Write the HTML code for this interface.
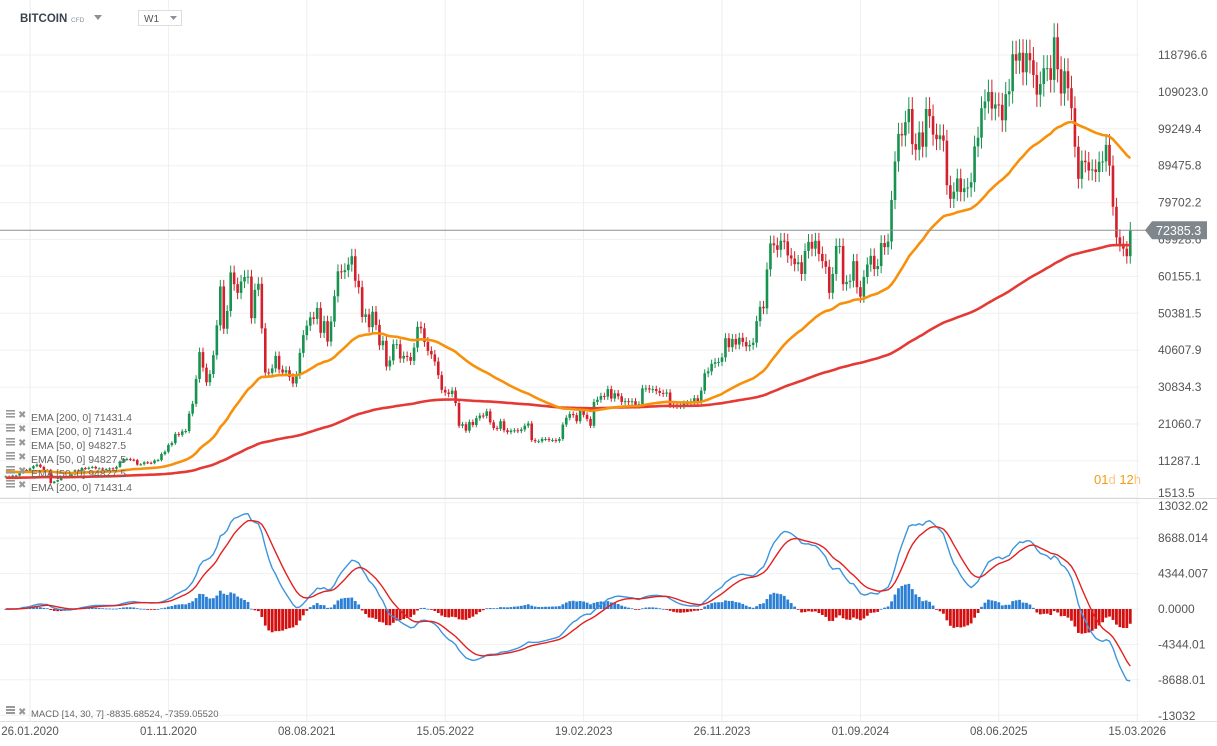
<!DOCTYPE html>
<html><head><meta charset="utf-8">
<style>
body{margin:0;background:#fff;width:1217px;height:746px;overflow:hidden;font-family:"Liberation Sans",sans-serif}
#c{position:absolute;left:0;top:0}
</style></head>
<body>
<svg id="c" width="1217" height="746" xmlns="http://www.w3.org/2000/svg">
<g id="grid"></g>
<g id="candles"></g>
<g id="emas"></g>
<g id="macd"></g>
<g id="axes"></g>
<g>
<text x="20" y="22" font-size="11.5" font-weight="bold" fill="#3a4450">BITCOIN</text>
<text x="71" y="22" font-size="6.5" fill="#8a9099">CFD</text>
<path d="M94 15 L102 15 L98 20 Z" fill="#8a9099"/>
<rect x="138.5" y="10.5" width="43" height="15" fill="#fff" stroke="#ddd"/>
<text x="144" y="22" font-size="10" fill="#555">W1</text>
<path d="M170 16 L177 16 L173.5 20 Z" fill="#8a9099"/>
</g>
<g id="legend"></g>
<text x="1094" y="484" font-size="13" fill="#f39c12">01<tspan fill="#f8c77f">d</tspan> 12<tspan fill="#f8c77f">h</tspan></text>
<text x="31" y="717" font-size="9.5" fill="#666">MACD [14, 30, 7] -8835.68524,  -7359.05520</text>
<g><rect x="6" y="706" width="9" height="2" fill="#999"/><rect x="6" y="709" width="9" height="2" fill="#999"/><rect x="6" y="712" width="9" height="2" fill="#999"/><text x="18" y="715" font-size="10" fill="#999">✖</text></g>
</svg>
<script>
const NS="http://www.w3.org/2000/svg";
const closes=[7.2,7.1,7.4,7.4,8.1,8.9,8.4,
9.3,9.9,10.3,9.7,8.6,8.9,5.4,5.8,6.2,6.8,6.9,7.1,7.7,8.8,8.7,9.4,9.2,9.5,9.7,9.3,9.3,9.0,9.1,9.3,9.2,9.7,11.1,11.7,11.8,11.6,11.5,10.3,10.4,10.9,10.8,10.7,11.4,11.5,13.1,13.7,15.5,16.0,18.4,18.2,19.1,19.2,23.8,26.4,33.0,
40.1,36.0,32.1,34.3,39.3,47.2,57.5,46.3,51.0,61.2,58.1,55.8,58.8,60.0,60.1,49.1,56.6,58.2,46.4,34.7,34.6,35.8,39.1,35.5,34.7,35.3,33.5,31.8,34.0,39.9,44.6,47.1,49.3,48.9,51.8,45.2,48.3,42.9,48.2,54.9,61.5,61.3,61.8,63.3,65.5,59.0,57.3,49.4,50.1,46.7,50.8,47.3,
41.9,43.1,36.3,37.9,42.2,42.2,38.4,39.1,38.8,37.8,41.3,46.8,46.4,42.8,40.4,39.5,37.6,34.0,30.1,29.4,29.0,29.9,26.6,20.6,21.0,19.3,21.6,20.8,22.6,23.3,23.2,24.4,21.5,20.0,19.8,21.8,19.4,18.9,19.3,19.4,19.2,19.6,20.6,21.2,16.8,16.5,16.5,17.1,17.1,16.8,16.8,16.6,
17.1,20.9,22.7,23.7,23.4,21.8,24.6,23.5,22.4,20.6,26.9,27.5,28.5,28.3,30.3,27.8,29.2,28.4,26.9,27.1,26.9,27.1,25.9,26.3,30.5,30.5,30.2,30.3,29.8,29.3,29.1,29.4,26.1,26.0,25.8,25.8,26.5,26.6,27.0,27.9,26.9,29.9,34.5,35.0,37.0,37.4,37.5,38.7,43.8,41.4,43.6,42.1,43.9,
42.8,41.6,42.0,42.6,48.3,52.1,51.7,62.0,68.9,68.4,67.2,69.6,69.4,65.7,64.9,63.4,63.9,60.8,66.9,69.3,67.5,69.6,66.1,64.2,62.7,55.8,60.8,68.2,68.2,58.1,58.7,59.0,64.2,57.3,54.8,60.0,63.3,65.6,62.1,62.9,69.0,67.9,69.4,80.4,90.6,97.9,97.5,101.0,104.5,95.2,93.7,98.3,
94.5,104.5,102.6,97.7,96.5,97.5,96.1,84.3,80.7,82.6,86.1,82.5,83.5,83.7,85.1,94.6,96.9,104.7,106.5,109.0,104.6,105.7,105.6,101.5,108.4,109.2,119.0,117.3,119.4,114.2,119.3,117.4,113.5,108.3,111.1,115.3,115.3,112.2,123.5,115.0,108.6,114.5,110.0,104.7,94.5,86.0,90.8,90.4,88.2,88.5,87.8,90.5,
90.6,95.0,89.5,78.6,70.5,68.8,67.5,65.5,72.4];
const priceTicks=[118796.6,109023.0,99249.4,89475.8,79702.2,69928.6,60155.1,50381.5,40607.9,30834.3,21060.7,11287.1,1513.5];
const macdTicks=[13032.02,8688.014,4344.007,0.0000,-4344.01,-8688.01,-13032.0];
const dateLabels=["26.01.2020","01.11.2020","08.08.2021","15.05.2022","19.02.2023","26.11.2023","01.09.2024","08.06.2025","15.03.2026"];
const dateWeeks=[0,40,80,120,160,200,240,280,320];
const lastPrice=72385.3;
const FIRST=-7;

const xW=w=>30+w*3.46;
const xI=i=>xW(i+FIRST);
const yP=v=>55+(118796.6-v)/9773.6*36.9;
const yM=v=>609-v*0.00815;
function el(t,a,p){const e=document.createElementNS(NS,t);for(const k in a)e.setAttribute(k,a[k]);p.appendChild(e);return e;}
const G=id=>document.getElementById(id);

const grid=G('grid');
dateWeeks.forEach(w=>{const l=el('line',{x1:xW(w),x2:xW(w),y1:0,y2:722,stroke:'#eeeeee'},grid);

});
priceTicks.forEach(v=>{const l=el('line',{x1:0,x2:1140,y1:yP(v),y2:yP(v),stroke:'#f0f0f0'},grid);

});
macdTicks.forEach(v=>{const l=el('line',{x1:0,x2:1140,y1:yM(v),y2:yM(v),stroke:'#f0f0f0'},grid);

});

const cg=G('candles');
const C=closes.map(v=>v*1000);
C.forEach((c,i)=>{
  const o=i?C[i-1]:c*0.98;
  const up=c>=o;
  const hi=Math.max(o,c)*1.03, lo=Math.min(o,c)*0.97;
  const x=xI(i), col=up?'#17924f':'#d3202c';
  const w=el('line',{x1:x,x2:x,y1:yP(hi),y2:yP(lo),stroke:col,'stroke-width':1},cg);
  
  
  const t=Math.min(yP(o),yP(c)),h=Math.max(1,Math.abs(yP(o)-yP(c)));
  const b=el('rect',{x:x-1.3,y:t,width:2.6,height:h,fill:col},cg);
  
  
});

function ema(arr,n,seed){const a=2/(n+1);let e=seed==null?arr[0]:seed;return arr.map(v=>(e=e+a*(v-e)));}
const e50=ema(C,50,8500), e200=ema(C,200,6800);
const eg=G('emas');
function poly(vals,fy,col,w,g,name){const p=el('polyline',{points:vals.map((v,i)=>xI(i).toFixed(1)+','+fy(v).toFixed(1)).join(' '),fill:'none',stroke:col,'stroke-width':w,'stroke-linejoin':'round'},g);

}
poly(e200,yP,'#e53935',2.6,eg,'ema-200-line');
poly(e50,yP,'#f7900a',2.6,eg,'ema-50-line');

const mg=G('macd');
const f14=ema(C,14),f30=ema(C,30);
const mac=f14.map((v,i)=>v-f30[i]);const sig=ema(mac,7);
mac.forEach((m,i)=>{const h=m-sig[i];const y=yM(h);
  const r=el('rect',{x:xI(i)-1.4,y:Math.min(y,609),width:2.8,height:Math.max(0.8,Math.abs(y-609)),fill:h>=0?'#2b7fd4':'#d40f0f'},mg);
  
  });
poly(mac,yM,'#3b95dd',1.4,mg,'macd-line');
poly(sig,yM,'#e32020',1.4,mg,'signal-line');

const ax=G('axes');
let d=el('line',{x1:0,x2:1217,y1:498.5,y2:498.5,stroke:'#d8d8d8'},ax);


d=el('line',{x1:0,x2:1217,y1:721.5,y2:721.5,stroke:'#e0e0e0'},ax);


priceTicks.forEach((v,i)=>{const t=el('text',{x:1158,y:Math.min(yP(v)+4,497),'font-size':12,fill:'#555'},ax);t.textContent=v.toFixed(1);

});
macdTicks.forEach((v,i)=>{const yy=i==0?510:i==6?720:yM(v)+4;const t=el('text',{x:1158,y:yy,'font-size':12,fill:'#555'},ax);t.textContent=v===0?'0.0000':String(v);

});
dateLabels.forEach((s,i)=>{const t=el('text',{x:xW(dateWeeks[i]),y:735,'font-size':11.5,fill:'#555','text-anchor':'middle'},ax);t.textContent=s;

});
const yl=yP(lastPrice);
d=el('line',{x1:0,x2:1150,y1:yl,y2:yl,stroke:'#8a9096','stroke-width':1},ax);


d=el('path',{d:`M1145 ${yl} L1152 ${yl-9} L1207 ${yl-9} L1207 ${yl+9} L1152 ${yl+9} Z`,fill:'#7f878d'},ax);


const lt=el('text',{x:1156,y:yl+5,'font-size':12.5,fill:'#fff'},ax);lt.textContent=lastPrice.toFixed(1);



const lg=G('legend');
const legendItems=["EMA [200,  0] 71431.4","EMA [200,  0] 71431.4","EMA [50,  0] 94827.5","EMA [50,  0] 94827.5","EMA [50,  0] 94827.5","EMA [200,  0] 71431.4"];
legendItems.forEach((s,i)=>{const y=417+i*14;
  const g=el('g',{},lg);
  
  
  el('rect',{x:6,y:y-7,width:9,height:1.6,fill:'#999'},g);el('rect',{x:6,y:y-4,width:9,height:1.6,fill:'#999'},g);el('rect',{x:6,y:y-1,width:9,height:1.6,fill:'#999'},g);
  const x=el('text',{x:18,y:y+1,'font-size':10,fill:'#999'},g);x.textContent='✖';
  const t=el('text',{x:31,y:y+4,'font-size':10.5,fill:'#666'},g);t.textContent=s;});
</script>
</body></html>
